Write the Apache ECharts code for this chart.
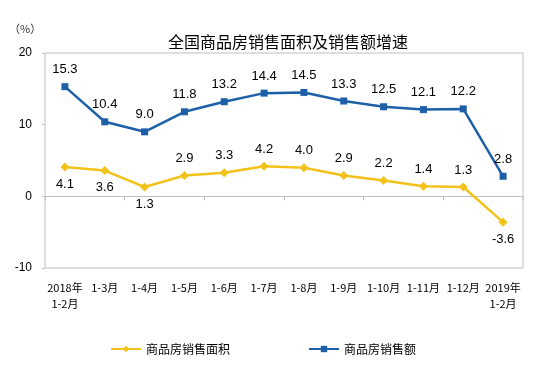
<!DOCTYPE html>
<html><head><meta charset="utf-8">
<script src="https://cdn.jsdelivr.net/npm/echarts@6/dist/echarts.min.js"></script>
<style>html,body{margin:0;padding:0;background:#fff}#c{width:539px;height:380px}</style>
</head><body><div id="c"></div>
<script>
const categories = ['2018年\n1-2月','1-3月','1-4月','1-5月','1-6月','1-7月','1-8月','1-9月','1-10月','1-11月','1-12月','2019年\n1-2月'];
const areaGrowth = [4.1, 3.6, 1.3, 2.9, 3.3, 4.2, 4.0, 2.9, 2.2, 1.4, 1.3, -3.6];
const salesGrowth = [15.3, 10.4, 9.0, 11.8, 13.2, 14.4, 14.5, 13.3, 12.5, 12.1, 12.2, 2.8];
const areaLabelPos = ['bottom','bottom','bottom','top','top','top','top','top','top','top','top','bottom'];
const yTicks = [-10, 0, 10, 20];

const chart = echarts.init(document.getElementById('c'));
const fontLabel = 'Liberation Sans, Arial, sans-serif';
chart.setOption({
  animation: false,
  title: {
    text: '全国商品房销售面积及销售额增速',
    left: 163, top: 29,
    textStyle: {fontSize: 16, fontWeight: 'normal', color: '#000', fontFamily: 'Noto Sans CJK SC'}
  },
  graphic: [{type: 'text', left: 9, top: 23, style: {text: '（%）', fontSize: 11, fill: '#333', fontFamily: 'Noto Sans CJK SC'}}],
  legend: {
    bottom: 20, left: 105, itemGap: 78, itemWidth: 30, itemHeight: 8,
    textStyle: {fontSize: 12, color: '#000', fontFamily: 'Noto Sans CJK SC'},
    data: ['商品房销售面积', '商品房销售额']
  },
  grid: {left: 45, right: 16, top: 53, bottom: 112, show: true, borderColor: '#bfbfbf', borderWidth: 1},
  xAxis: [{
    type: 'category', data: categories,
    axisLine: {onZero: true, lineStyle: {color: '#bfbfbf'}},
    axisTick: {show: true, length: 4, lineStyle: {color: '#bfbfbf'}},
    axisLabel: {show: false}
  }, {
    type: 'category', data: categories, position: 'bottom',
    axisLine: {show: false}, axisTick: {show: false},
    axisLabel: {interval: 0, fontSize: 11, color: '#000', margin: 12, lineHeight: 16, fontFamily: 'Noto Sans CJK SC'}
  }],
  yAxis: {
    type: 'value', min: yTicks[0], max: yTicks[yTicks.length-1], interval: 10,
    splitLine: {show: false},
    axisLine: {show: false},
    axisTick: {show: true, length: 3, lineStyle: {color: '#bfbfbf'}},
    axisLabel: {fontSize: 12, color: '#000', margin: 13, fontFamily: fontLabel}
  },
  series: [{
    name: '商品房销售面积', type: 'line', xAxisIndex: 0,
    data: areaGrowth.map((v, i) => ({value: v, label: {position: areaLabelPos[i]}})),
    symbol: 'diamond', symbolSize: 9,
    itemStyle: {color: '#F2C21B'}, lineStyle: {width: 2.5, color: '#F2C21B'},
    label: {show: true, fontSize: 13, color: '#000', distance: 6, fontFamily: fontLabel, formatter: p => p.value.toFixed(1)}
  }, {
    name: '商品房销售额', type: 'line', xAxisIndex: 0,
    data: salesGrowth,
    symbol: 'rect', symbolSize: 7,
    itemStyle: {color: '#1E60A8'}, lineStyle: {width: 2.5, color: '#1E60A8'},
    label: {show: true, position: 'top', fontSize: 13, color: '#000', distance: 7, fontFamily: fontLabel, formatter: p => p.value.toFixed(1)}
  }]
});
</script></body></html>
